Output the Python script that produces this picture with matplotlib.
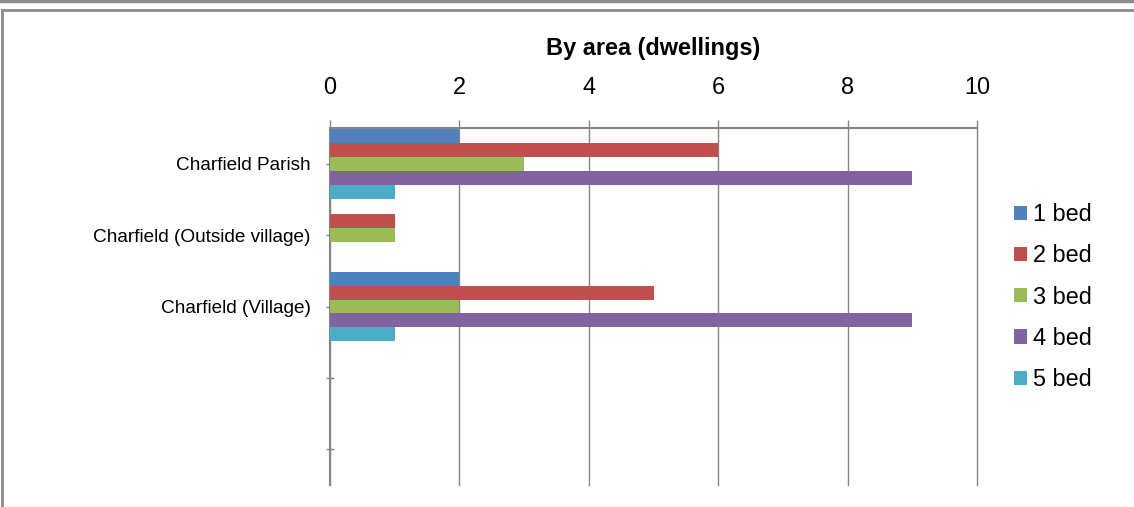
import matplotlib
matplotlib.use("Agg")
from matplotlib import pyplot as plt
from matplotlib.lines import Line2D

plt.rcParams['font.family'] = ['Liberation Sans', 'DejaVu Sans']

categories = ['Charfield Parish', 'Charfield (Outside village)', 'Charfield (Village)', '', '']
series = ['1 bed', '2 bed', '3 bed', '4 bed', '5 bed']
one_bed = [2, 0, 2, 0, 0]
two_bed = [6, 1, 5, 0, 0]
three_bed = [3, 1, 2, 0, 0]
four_bed = [9, 0, 9, 0, 0]
five_bed = [1, 0, 1, 0, 0]
colors = ['#4F81BD', '#C0504D', '#9BBB59', '#8064A2', '#4BACC6']

W, H = 1134, 507
fig = plt.figure(figsize=(W / 100, H / 100), dpi=100)
ax = fig.add_axes([330 / W, 1 - 485 / H, (977 - 330) / W, (485 - 128) / H])

grey = '#868686'
bar_h = 0.196
ypos = list(range(len(categories)))
for i, (name, vals) in enumerate(zip(series, [one_bed, two_bed, three_bed, four_bed, five_bed])):
    offs = [y + (i - 2) * bar_h for y in ypos]
    ax.barh(offs, vals, height=bar_h, color=colors[i], label=name, zorder=3)

ax.set_xlim(0, 10)
ax.set_ylim(len(categories) - 0.5, -0.5)
ax.set_xticks([0, 2, 4, 6, 8, 10])
ax.set_yticks(ypos)
ax.set_yticklabels(categories, fontsize=13.7)
ax.xaxis.tick_top()
ax.tick_params(axis='x', direction='out', length=5.8, width=1, color=grey,
               labelsize=16.9, pad=15)
ax.tick_params(axis='y', direction='inout', length=5.8, width=1, color=grey, pad=11)
ax.grid(axis='x', color=grey, linewidth=1, zorder=0)
for line in ax.get_xgridlines():
    line.set_clip_on(False)
for s in ['right', 'bottom']:
    ax.spines[s].set_visible(False)
for s in ['left', 'top']:
    ax.spines[s].set_color(grey)
    ax.spines[s].set_linewidth(1.5)

fig.text(653.5 / W, 1 - 48 / H, 'By area (dwellings)', ha='center', va='center',
         fontsize=16.9, fontweight='bold')

leg = fig.legend(loc='center left', bbox_to_anchor=(1002 / W, 1 - 297 / H),
                 frameon=False, fontsize=16.9, handlelength=0.55, handleheight=0.55,
                 handletextpad=0.25, labelspacing=0.78, borderpad=0)

# outer chart border
fig.add_artist(Line2D([0, W], [H - 1, H - 1], transform=None, color='#8c8c8c', linewidth=2.5))
fig.add_artist(Line2D([2, W], [H - 10, H - 10], transform=None, color='#8c8c8c', linewidth=2))
fig.add_artist(Line2D([2, 2], [0, H - 10], transform=None, color='#8c8c8c', linewidth=2))

fig.savefig('out.png', dpi=100)
